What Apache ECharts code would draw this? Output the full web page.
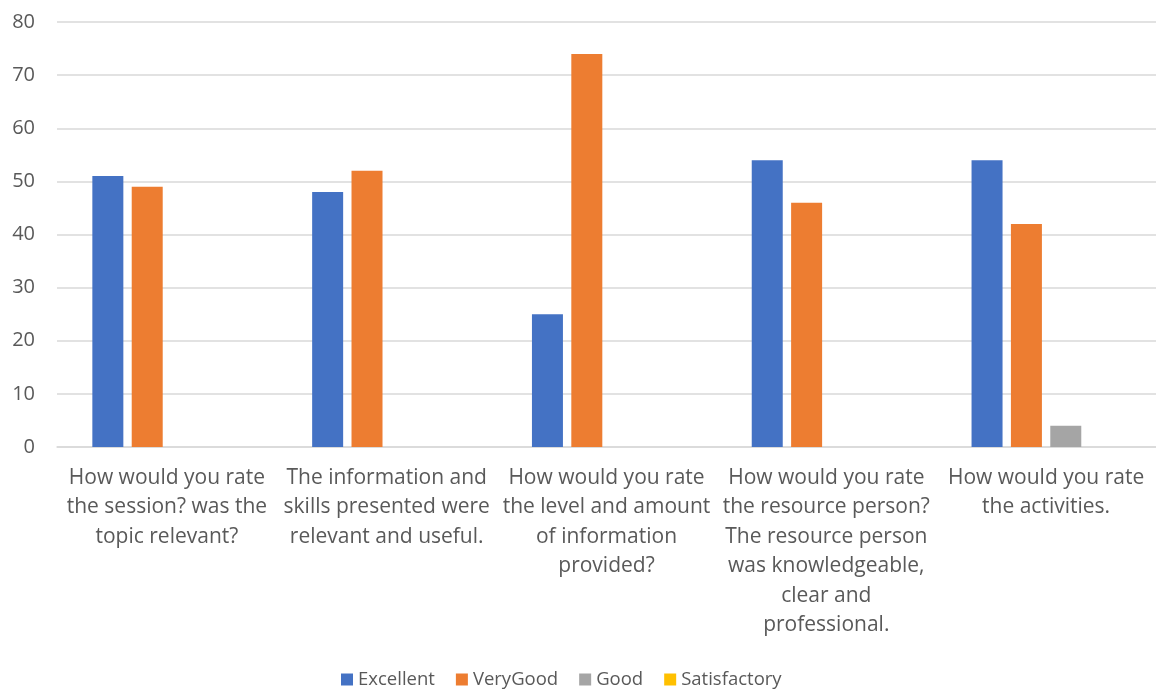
<!DOCTYPE html>
<html>
<head>
<meta charset="utf-8">
<script src="https://cdn.jsdelivr.net/npm/echarts@6/dist/echarts.min.js"></script>
<style>
html,body{margin:0;padding:0;background:#fff;}
#chart{width:1156px;height:689px;}
</style>
</head>
<body>
<div id="chart"></div>
<script>
var categories = [
  "How would you rate\nthe session? was the\ntopic relevant?",
  "The information and\nskills presented were\nrelevant and useful.",
  "How would you rate\nthe level and amount\nof information\nprovided?",
  "How would you rate\nthe resource person?\nThe resource person\nwas knowledgeable,\nclear and\nprofessional.",
  "How would you rate\nthe activities."
];
var seriesNames = ["Excellent", "VeryGood", "Good", "Satisfactory"];
var excellent = [51, 48, 25, 54, 54];
var veryGood = [49, 52, 74, 46, 42];
var good = [0, 0, 0, 0, 4];
var satisfactory = [0, 0, 0, 0, 0];
var yTicks = [0, 10, 20, 30, 40, 50, 60, 70, 80];

var colors = ["#4472C4", "#ED7D31", "#A5A5A5", "#FFC000"];
var values = [excellent, veryGood, good, satisfactory];
var fontFam = "'Open Sans', 'Noto Sans', sans-serif";

var chart = echarts.init(document.getElementById('chart'), null, {renderer: 'canvas'});
chart.setOption({
  animation: false,
  color: colors,
  grid: {left: 57, right: 0, top: 22, bottom: 242, containLabel: false},
  legend: {
    data: seriesNames,
    top: 665,
    left: 336,
    itemWidth: 12,
    itemHeight: 12,
    itemGap: 21,
    icon: 'rect',
    textStyle: {fontSize: 18.5, color: '#595959', fontFamily: fontFam}
  },
  xAxis: {
    type: 'category',
    data: categories,
    axisLine: {lineStyle: {color: '#D9D9D9', width: 1.5}},
    axisTick: {show: false},
    axisLabel: {
      interval: 0,
      margin: 16,
      fontSize: 21,
      lineHeight: 29.5,
      color: '#595959',
      fontFamily: fontFam,
      align: 'center'
    }
  },
  yAxis: {
    type: 'value',
    min: yTicks[0],
    max: yTicks[yTicks.length - 1],
    interval: 10,
    axisLine: {show: false},
    axisTick: {show: false},
    splitLine: {lineStyle: {color: '#D9D9D9', width: 1.5}},
    axisLabel: {fontSize: 20, color: '#595959', fontFamily: fontFam, margin: 22}
  },
  series: seriesNames.map(function (name, i) {
    return {
      name: name,
      type: 'bar',
      data: values[i],
      barWidth: 31,
      barGap: '27%',
      itemStyle: {color: colors[i]}
    };
  })
});
</script>
</body>
</html>
